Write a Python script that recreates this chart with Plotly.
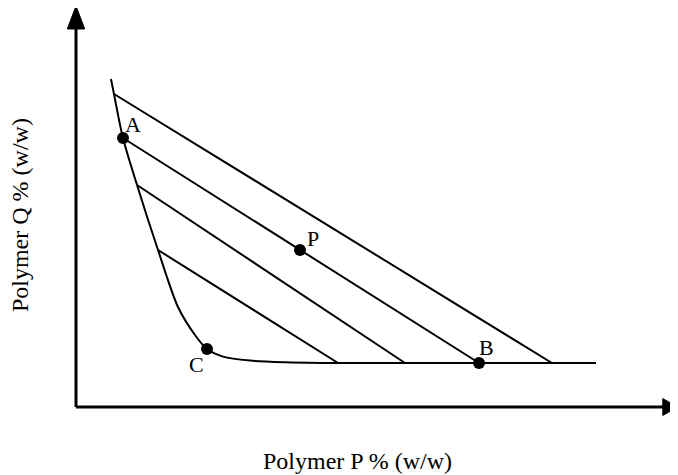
import plotly.graph_objects as go

# Binodal curve (Polymer P %, Polymer Q %) in arbitrary diagram units
binodal_x = [5.83, 6.33, 7.83, 10.17, 13.67, 17.0, 19.83, 21.83, 24.5, 29.0, 35.0, 43.67, 55.0, 67.17, 79.33, 86.67]
binodal_y = [82.0, 78.25, 67.25, 55.5, 39.25, 25.0, 18.0, 14.5, 12.6, 11.6, 11.2, 11.0, 11.0, 11.0, 11.0, 11.0]

# Tie lines: (x_start, y_start, x_end, y_end)
tie_x0 = [6.33, 7.83, 10.17, 13.67]
tie_y0 = [78.25, 67.25, 55.5, 39.25]
tie_x1 = [79.33, 67.17, 54.83, 43.67]
tie_y1 = [11.0, 11.0, 11.0, 11.0]

# Labelled points
pt_names = ["A", "P", "B", "C"]
pt_x = [7.83, 37.33, 67.17, 21.83]
pt_y = [67.25, 39.25, 11.0, 14.5]

x_title = "Polymer P % (w/w)"
y_title = "Polymer Q % (w/w)"

FONT = "Liberation Serif, Times New Roman, serif"

fig = go.Figure()
fig.add_trace(go.Scatter(x=binodal_x, y=binodal_y, mode="lines",
                         line=dict(color="black", width=2, shape="spline", smoothing=0.8),
                         hoverinfo="skip", showlegend=False))
for x0, y0, x1, y1 in zip(tie_x0, tie_y0, tie_x1, tie_y1):
    fig.add_trace(go.Scatter(x=[x0, x1], y=[y0, y1], mode="lines",
                             line=dict(color="black", width=2),
                             hoverinfo="skip", showlegend=False))
fig.add_trace(go.Scatter(x=pt_x, y=pt_y, mode="markers",
                         marker=dict(color="black", size=12),
                         hoverinfo="skip", showlegend=False))

# label offsets (pixels)
offs = {"A": (10, -14), "P": (13, -12), "B": (7, -16), "C": (-10, 15)}
for n, x, y in zip(pt_names, pt_x, pt_y):
    dx, dy = offs[n]
    fig.add_annotation(x=x, y=y, text=n, showarrow=False, xshift=dx, yshift=-dy,
                       xanchor="center", yanchor="middle",
                       font=dict(family=FONT, size=22, color="black"))

# Axes with arrows
fig.add_shape(type="line", x0=0, y0=0, x1=0, y1=95, line=dict(color="black", width=3))
fig.add_shape(type="line", x0=0, y0=0, x1=98, y1=0, line=dict(color="black", width=3))
fig.add_shape(type="path", path="M -1.45,94.5 L 1.45,94.5 L 0,100.25 Z",
              fillcolor="black", line=dict(color="black", width=1))
fig.add_shape(type="path", path="M 97.8,-2.1 L 97.8,2.1 L 100.3,0 Z",
              fillcolor="black", line=dict(color="black", width=1))

fig.add_annotation(x=0.515, y=0.046, xref="paper", yref="paper", text=x_title, showarrow=False,
                   xanchor="center", yanchor="middle",
                   font=dict(family=FONT, size=24, color="black"))
fig.add_annotation(x=0.0177, y=0.564, xref="paper", yref="paper", text=y_title, showarrow=False,
                   xanchor="center", yanchor="middle",
                   textangle=-90, font=dict(family=FONT, size=24, color="black"))

fig.update_layout(width=678, height=475, margin=dict(l=0, r=0, t=0, b=0),
                  plot_bgcolor="white", paper_bgcolor="white",
                  xaxis=dict(range=[-68/6, 610/6], visible=False, fixedrange=True),
                  yaxis=dict(range=[-76/4, 399/4], visible=False, fixedrange=True))
fig.write_html("out.html")
